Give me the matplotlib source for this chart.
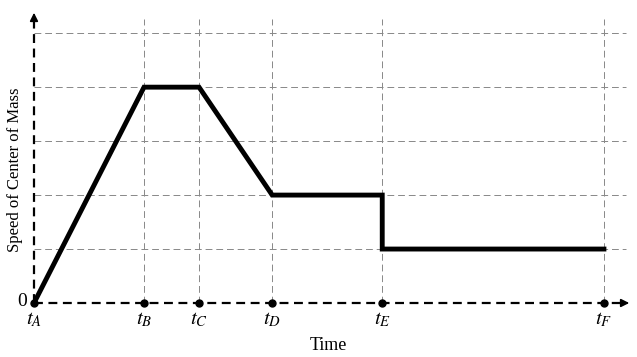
import matplotlib.pyplot as plt

plt.rcParams['font.family'] = 'Liberation Serif'
plt.rcParams['mathtext.fontset'] = 'stix'

# time points (arbitrary units) and speed values
t_vals = [0, 2, 3, 4.33, 6.33, 10.36]
t_labels = ['$t_A$', '$t_B$', '$t_C$', '$t_D$', '$t_E$', '$t_F$']
line_x = [0, 2, 3, 4.33, 6.33, 6.33, 10.36]
line_y = [0, 4, 4, 2, 2, 1, 1]
grid_y = [1, 2, 3, 4, 5]

fig = plt.figure(figsize=(6.37, 3.57), dpi=100)
ax = fig.add_axes([34/637, 54/357, 598/637, 293/357])
ax.set_xlim(0, 10.87)
ax.set_ylim(0, 5.43)
for s in ax.spines.values():
    s.set_visible(False)

# grid
for gy in grid_y:
    ax.plot([0, 10.76], [gy, gy], color='#888888', lw=0.7, ls=(0, (7, 4)), zorder=1)
for tx in t_vals[1:]:
    ax.plot([tx, tx], [0, 5.26], color='#888888', lw=0.7, ls=(0, (7, 4)), zorder=1)

# axes as dashed arrows
ax.plot([0, 10.7], [0, 0], color='black', lw=1.6, ls=(0, (4, 2.5)), zorder=2, clip_on=False)
ax.plot([0, 0], [0, 5.25], color='black', lw=1.6, ls=(0, (4, 2.5)), zorder=2, clip_on=False)
ax.annotate('', xy=(10.87, 0), xytext=(10.6, 0),
            arrowprops=dict(arrowstyle='-|>', color='black', lw=1.2, mutation_scale=12),
            annotation_clip=False)
ax.annotate('', xy=(0, 5.43), xytext=(0, 5.15),
            arrowprops=dict(arrowstyle='-|>', color='black', lw=1.2, mutation_scale=12),
            annotation_clip=False)

# speed curve
ax.plot(line_x, line_y, color='black', lw=3.5, solid_joinstyle='miter', zorder=3, clip_on=False)
ax.plot(t_vals, [0]*len(t_vals), 'o', color='black', ms=5, zorder=4, clip_on=False)

ax.set_xticks(t_vals)
ax.set_xticklabels(t_labels, fontsize=15)
ax.set_yticks([])
ax.tick_params(length=0, pad=5)
ax.text(-0.12, 0.02, '0', fontsize=14, ha='right', va='center')

fig.text(328/637, 1 - 346/357, 'Time', fontsize=13, ha='center', va='center')
fig.text(15/637, 1 - 170/357, 'Speed of Center of Mass', fontsize=12,
         ha='center', va='center', rotation=90)

fig.savefig('out.png', dpi=100)
